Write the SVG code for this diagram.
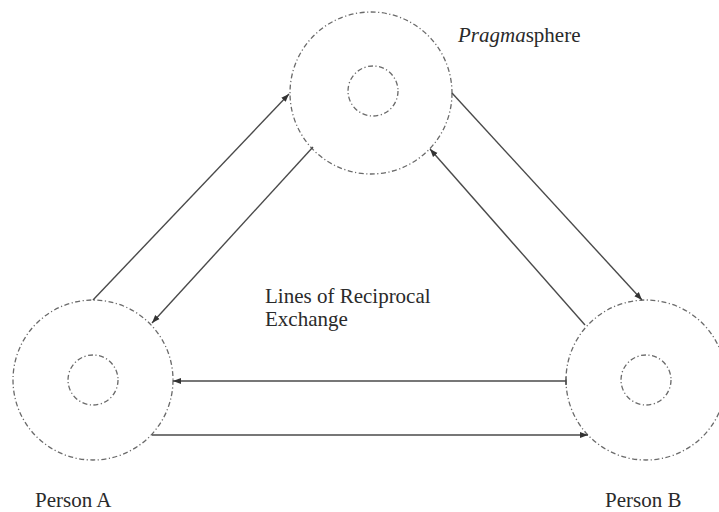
<svg xmlns="http://www.w3.org/2000/svg" width="719" height="512" viewBox="0 0 719 512">
<style>
.ring{fill:none;stroke:#6a6a6a;stroke-width:1.3;stroke-dasharray:5 2.5 1.2 2.5}
.conn{fill:none;stroke:#4a4a4a;stroke-width:1.4}
.lbl{font-size:21px;fill:#2a2a2a}
</style>
<defs>
<marker id="ah" markerUnits="userSpaceOnUse" markerWidth="10" markerHeight="8" refX="8" refY="4" orient="auto">
<path d="M0,1 L8,4 L0,7 Z" fill="#333"/>
</marker>
</defs>
<rect width="719" height="512" fill="#fff"/>
<g font-family="Times New Roman, Liberation Serif, Tinos, serif">
<g id="pragmasphere">
<circle class="ring" cx="371" cy="93" r="81"/>
<circle class="ring" cx="373" cy="91" r="25"/>
<text class="lbl" x="458" y="42"><tspan font-style="italic">Pragma</tspan>sphere</text>
</g>
<g id="personA">
<circle class="ring" cx="93" cy="380" r="80"/>
<circle class="ring" cx="93" cy="380" r="25"/>
<text class="lbl" x="35" y="507">Person A</text>
</g>
<g id="personB">
<circle class="ring" cx="646" cy="380" r="80"/>
<circle class="ring" cx="646" cy="380" r="25"/>
<text class="lbl" x="605" y="507">Person B</text>
</g>
<g id="label">
<text class="lbl" x="265" y="303">Lines of Reciprocal</text>
<text class="lbl" x="265" y="326">Exchange</text>
</g>
</g>
<g id="connectors">
<line class="conn" x1="93" y1="300" x2="289" y2="94" marker-end="url(#ah)"/>
<line class="conn" x1="313" y1="147" x2="152" y2="323" marker-end="url(#ah)"/>
<line class="conn" x1="452" y1="93" x2="642" y2="300" marker-end="url(#ah)"/>
<line class="conn" x1="585" y1="325" x2="430" y2="149" marker-end="url(#ah)"/>
<line class="conn" x1="566" y1="381" x2="173" y2="381" marker-end="url(#ah)"/>
<line class="conn" x1="566" y1="377" x2="566" y2="385"/>
<line class="conn" x1="152" y1="435" x2="588" y2="435" marker-end="url(#ah)"/>
</g>
</svg>
